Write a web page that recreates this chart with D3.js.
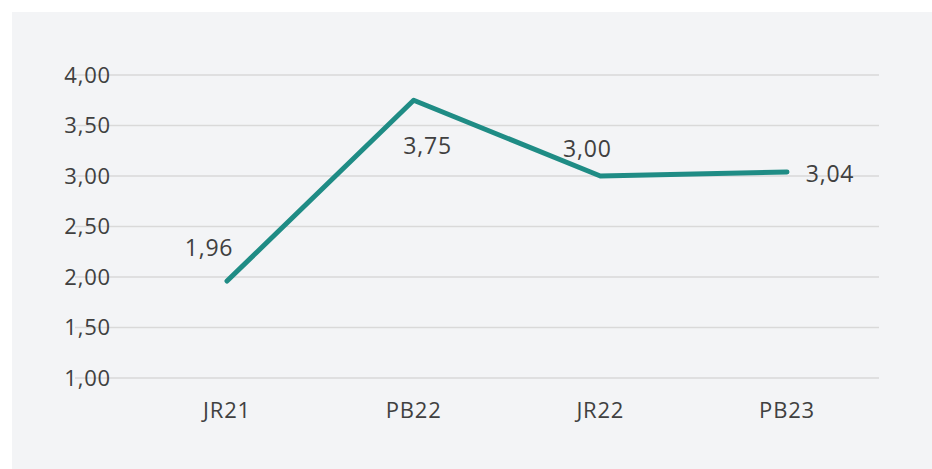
<!DOCTYPE html>
<html>
<head>
<meta charset="utf-8">
<script src="https://cdn.jsdelivr.net/npm/d3@7"></script>
<style>
  body { margin: 0; background: #ffffff; }
  text { font-family: "Open Sans", sans-serif; fill: #404040; letter-spacing: 0.8px; }
</style>
</head>
<body>
<svg width="932" height="469"></svg>
<script>
var categories = ["JR21", "PB22", "JR22", "PB23"];
var values = [1.96, 3.75, 3.00, 3.04];
var yTicks = [1.00, 1.50, 2.00, 2.50, 3.00, 3.50, 4.00];

var svg = d3.select("svg");
var width = +svg.attr("width");
var height = +svg.attr("height");

// panel background
svg.append("rect")
    .attr("x", 12).attr("y", 12)
    .attr("width", width - 12).attr("height", height - 12)
    .attr("fill", "#f3f4f6");

var grid = {left: 75, right: 879};
var x = d3.scalePoint()
    .domain(categories)
    .range([227, 787]);
var y = d3.scaleLinear()
    .domain([1, 4])
    .range([378, 75]);

var fmt = d => d3.format(".2f")(d).replace(".", ",");

// gridlines
svg.append("g").selectAll("line")
    .data(yTicks).enter()
    .append("line")
    .attr("x1", grid.left).attr("x2", grid.right)
    .attr("y1", d => y(d)).attr("y2", d => y(d))
    .attr("stroke", "#d9d9d9")
    .attr("stroke-width", 1.5);

// y axis labels
svg.append("g").selectAll("text")
    .data(yTicks).enter()
    .append("text")
    .attr("x", 111)
    .attr("y", d => y(d))
    .attr("dy", "0.35em")
    .attr("text-anchor", "end")
    .attr("font-size", 22)
    .text(fmt);

// x axis labels
svg.append("g").selectAll("text")
    .data(categories).enter()
    .append("text")
    .attr("x", d => x(d))
    .attr("y", 410)
    .attr("dy", "0.35em")
    .attr("text-anchor", "middle")
    .attr("font-size", 22)
    .text(d => d);

// line
var data = categories.map((c, i) => ({c: c, v: values[i]}));
var lineMaker = d3.line()
    .x(d => x(d.c))
    .y(d => y(d.v));
svg.append("path")
    .attr("fill", "none")
    .attr("stroke", "#1f8c85")
    .attr("stroke-width", 5)
    .attr("stroke-linecap", "round")
    .attr("stroke-linejoin", "round")
    .attr("d", lineMaker(data));

// data labels
var offsets = [[-18, -33], [14, 46], [-13, -27], [43, 2]];
svg.append("g").selectAll("text")
    .data(data).enter()
    .append("text")
    .attr("x", (d, i) => x(d.c) + offsets[i][0])
    .attr("y", (d, i) => y(d.v) + offsets[i][1])
    .attr("dy", "0.35em")
    .attr("text-anchor", "middle")
    .attr("font-size", 23)
    .text(d => fmt(d.v));
</script>
</body>
</html>
